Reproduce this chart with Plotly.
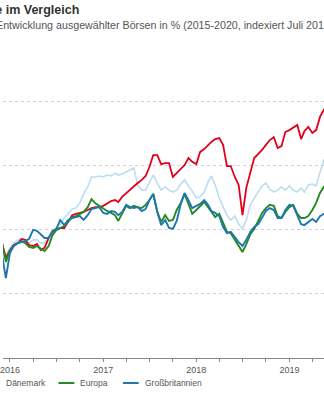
import plotly.graph_objects as go

# ---------------- data ----------------
# semi-monthly observations (index, July 2015 = 100)
dates = [
    "2015-12-01", "2015-12-16",
    "2016-01-01", "2016-01-16", "2016-02-01", "2016-02-16", "2016-03-01", "2016-03-16",
    "2016-04-01", "2016-04-16", "2016-05-01", "2016-05-16", "2016-06-01", "2016-06-16",
    "2016-07-01", "2016-07-16", "2016-08-01", "2016-08-16", "2016-09-01", "2016-09-16",
    "2016-10-01", "2016-10-16", "2016-11-01", "2016-11-16", "2016-12-01", "2016-12-16",
    "2017-01-01", "2017-01-16", "2017-02-01", "2017-02-16", "2017-03-01", "2017-03-16",
    "2017-04-01", "2017-04-16", "2017-05-01", "2017-05-16", "2017-06-01", "2017-06-16",
    "2017-07-01", "2017-07-16", "2017-08-01", "2017-08-16", "2017-09-01", "2017-09-16",
    "2017-10-01", "2017-10-16", "2017-11-01", "2017-11-16", "2017-12-01", "2017-12-16",
    "2018-01-01", "2018-01-16", "2018-02-01", "2018-02-16", "2018-03-01", "2018-03-16",
    "2018-04-01", "2018-04-16", "2018-05-01", "2018-05-16", "2018-06-01", "2018-06-16",
    "2018-07-01", "2018-07-16", "2018-08-01", "2018-08-16", "2018-09-01", "2018-09-16",
    "2018-10-01", "2018-10-16", "2018-11-01", "2018-11-16", "2018-12-01", "2018-12-16",
    "2019-01-01", "2019-01-16", "2019-02-01", "2019-02-16", "2019-03-01", "2019-03-16",
    "2019-04-01", "2019-04-16", "2019-05-01", "2019-05-16", "2019-06-01",
]

usa = [
    115.5, 112.1,
    114.3, 115.8, 116.8, 117.1, 116.4, 115.8, 116.8, 116.8, 115.8, 115.8,
    117.7, 119.6, 120.5, 121.7, 123.6, 124.9, 126.4, 126.7, 128.3, 131.1, 133.3, 136.4,
    136.4, 136.7,
    136.4, 137.0, 136.7, 137.6, 137.0, 137.3, 137.9, 138.6, 139.2, 133.9, 132.3, 132.3,
    134.8, 137.0, 134.5, 132.3, 133.3, 132.3, 131.7, 132.3, 134.2, 135.5, 133.6, 132.0,
    129.8, 130.2, 131.7, 134.8, 136.7, 133.9, 129.8, 127.0, 124.5, 123.0, 124.2, 121.7,
    120.2, 123.0, 127.7, 129.8, 131.7, 133.6, 134.5, 132.6, 131.7, 132.3, 133.3, 132.3,
    133.6, 132.3, 131.7, 133.0, 131.7, 133.9, 134.2, 133.6, 137.9, 141.7, 143.2,
]

daenemark = [
    115.8, 111.2,
    113.6, 115.2, 115.8, 117.1, 116.8, 115.2, 114.9, 115.5, 113.6, 114.3,
    117.4, 119.3, 119.9, 120.5, 120.5, 122.4, 124.5, 124.9, 125.2, 125.5, 126.1, 126.7,
    127.0, 127.0,
    127.4, 128.0, 128.9, 129.2, 128.6, 130.2, 131.4, 132.3, 133.6, 134.5, 135.5, 136.7,
    139.5, 143.2, 143.2, 140.4, 140.7, 140.7, 136.4, 137.6, 138.6, 140.1, 142.3, 141.1,
    140.4, 144.2, 145.1, 146.4, 147.3, 148.2, 148.5, 146.4, 139.8, 139.8, 136.4, 133.9,
    124.5, 133.0, 137.9, 142.3, 143.6, 144.8, 146.4, 147.9, 148.8, 145.4, 146.0, 150.4,
    151.0, 151.7, 152.6, 148.2, 150.7, 152.0, 150.1, 151.0, 155.1, 157.3, 158.8,
]

europa = [
    115.8, 109.9,
    113.6, 114.9, 115.8, 116.4, 115.8, 114.6, 114.3, 114.9, 114.0, 113.3,
    114.9, 118.3, 119.9, 120.5, 121.1, 122.4, 123.9, 124.2, 124.9, 125.5, 127.0, 129.5,
    128.2, 127.4,
    126.4, 125.8, 125.2, 124.5, 122.7, 125.2, 127.4, 126.7, 127.4, 127.0, 126.7, 127.7,
    129.2, 131.1, 125.5, 122.4, 124.5, 122.7, 123.0, 126.1, 128.3, 131.1, 128.3, 124.9,
    126.1, 127.4, 128.6, 127.0, 125.5, 123.9, 124.9, 122.1, 119.3, 118.9, 116.8, 114.9,
    113.0, 115.5, 118.6, 120.2, 122.7, 125.2, 126.7, 127.7, 127.4, 124.2, 123.6, 125.5,
    127.0, 127.7, 124.9, 123.6, 123.6, 124.2, 126.1, 128.3, 131.4, 133.3, 134.5,
]

grossbritannien = [
    112.1, 104.9,
    112.7, 114.9, 115.8, 116.1, 116.4, 117.1, 119.9, 119.6, 118.6, 117.4,
    117.4, 119.6, 120.2, 123.0, 121.4, 123.0, 123.6, 123.9, 124.2, 123.0, 124.5, 126.4,
    126.7, 127.0,
    125.2, 124.9, 125.8, 125.5, 124.5, 125.5, 127.7, 127.0, 126.7, 127.0, 125.8, 126.4,
    129.2, 131.1, 125.5, 121.4, 123.0, 120.5, 120.2, 122.7, 128.0, 131.4, 129.2, 126.7,
    127.4, 128.0, 129.2, 127.7, 125.8, 125.2, 124.2, 120.8, 118.9, 119.3, 117.7, 116.1,
    114.9, 116.8, 119.3, 120.8, 121.7, 123.9, 125.8, 126.7, 126.1, 123.6, 123.6, 126.1,
    127.7, 127.4, 124.5, 121.7, 121.4, 122.4, 123.3, 122.4, 124.2, 124.9, 124.9,
]

series_names = ["USA", "Dänemark", "Europa", "Großbritannien"]
series_values = [usa, daenemark, europa, grossbritannien]
series_colors = ["#bcdcf0", "#e2001a", "#238b23", "#1f77b0"]
series_widths = [1.6, 1.8, 1.9, 1.9]

year_ticks = ["2016-01-01", "2017-01-01", "2018-01-01", "2019-01-01"]
year_labels = ["2016", "2017", "2018", "2019"]

title_text = "Aktienmärkte im Vergleich"
subtitle_text = "Entwicklung ausgewählter Börsen in % (2015-2020, indexiert Juli 2015 = 100)"

# ---------------- figure ----------------
FONT = "Liberation Sans, Arial, Helvetica, sans-serif"
fig = go.Figure()
for name, vals, col, w in zip(series_names, series_values, series_colors, series_widths):
    fig.add_trace(go.Scatter(
        x=dates, y=vals, mode="lines", name=name,
        line=dict(color=col, width=w), showlegend=False,
        hoverinfo="skip",
    ))

fig.update_layout(
    width=324, height=400,
    margin=dict(l=0, r=0, t=37, b=42, pad=0),
    paper_bgcolor="white", plot_bgcolor="white",
    font=dict(family=FONT, color="#555555"),
    xaxis=dict(
        type="date",
        range=["2015-12-04 19:00", "2019-05-16 17:00"],
        tickvals=year_ticks, ticktext=year_labels,
        ticks="outside", ticklen=3, tickcolor="#888888", tickwidth=1,
        minor=dict(dtick="M3", tick0="2016-01-01", ticks="outside", ticklen=3,
                   tickcolor="#888888", showgrid=False),
        showgrid=False, showline=True, linecolor="#888888", linewidth=1,
        tickfont=dict(size=9, color="#555555", family=FONT),
        ticklabeloverflow="allow",
        zeroline=False, fixedrange=True,
    ),
    yaxis=dict(
        range=[80, 180], dtick=20, tick0=80,
        showticklabels=False, ticks="",
        showgrid=True, gridcolor="#d2d2d2", gridwidth=1, griddash="dot",
        zeroline=False, showline=False, fixedrange=True,
    ),
)

def px_x(x):
    return x / 324.0

def px_y(y):
    return (358.0 - y) / 321.0

annotations = [
    dict(text="<b>" + title_text + "</b>", x=px_x(79), y=px_y(10), xref="paper", yref="paper",
         xanchor="right", yanchor="middle", showarrow=False,
         font=dict(size=12.5, color="#333333", family=FONT)),
    dict(text=subtitle_text, x=px_x(-9.5), y=px_y(25), xref="paper", yref="paper",
         xanchor="left", yanchor="middle", showarrow=False,
         font=dict(size=10.7, color="#555555", family=FONT)),
]

# manual legend (row under the axis, partly outside the visible area like the source)
legend_swatch_left = [-74, -19, 56, 121]
shapes = []
for name, col, sx in zip(series_names, series_colors, legend_swatch_left):
    shapes.append(dict(type="line", xref="paper", yref="paper",
                       x0=px_x(sx), x1=px_x(sx + 16), y0=px_y(383), y1=px_y(383),
                       line=dict(color=col, width=2)))
    annotations.append(dict(text=name, x=px_x(sx + 20), y=px_y(383), xref="paper", yref="paper",
                            xanchor="left", yanchor="middle", showarrow=False,
                            font=dict(size=8.5, color="#555555", family=FONT)))

fig.update_layout(annotations=annotations, shapes=shapes)
fig.write_html("out.html")
